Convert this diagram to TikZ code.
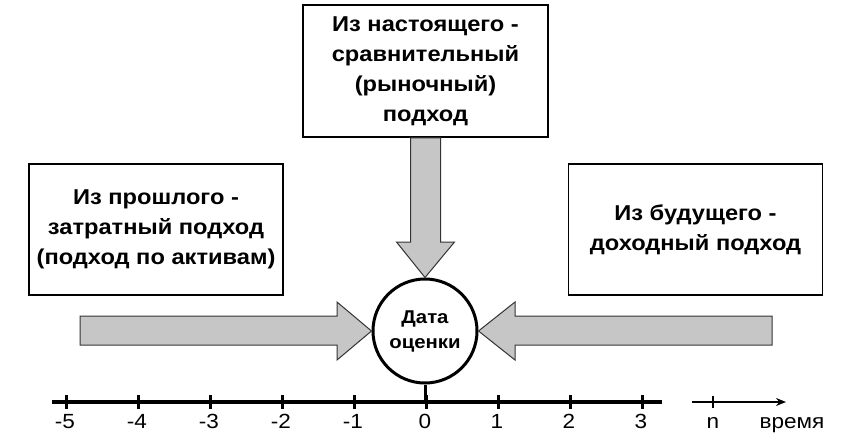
\documentclass[tikz,border=0pt]{standalone}
\usepackage{fontspec}
\setmainfont{Liberation Sans}[FakeStretch=1.1]
\usetikzlibrary{positioning,calc,arrows.meta}

\begin{document}
\begin{tikzpicture}[x=1pt,y=-1pt,
  box/.style={draw, line width=1.5pt, minimum width=254pt, minimum height=131pt, align=center, inner sep=0pt, font=\bfseries\fontsize{21.5}{30}\selectfont},
  blk/.style={draw=black!80, line width=1pt, fill=gray!45},
  tick/.style={line width=3pt},
  lbl/.style={anchor=base, inner sep=0pt, font=\fontsize{20.5}{20}\selectfont}]
\useasboundingbox (0,0) rectangle (861,445);
\node[box](past) at (156,229.5){Из прошлого -\\затратный подход\\(подход по активам)};
\node[box, minimum width=245pt, minimum height=132pt](now) at (425.5,71){Из настоящего -\\сравнительный\\(рыночный)\\подход};
\node[box](future) at (695.5,229.5){Из будущего -\\доходный подход};
\node[draw, circle, line width=3pt, minimum size=104pt, inner sep=0pt, align=center, font=\bfseries\fontsize{18.5}{25}\selectfont](date) at (425,331){Дата\\оценки};
% block arrows
\draw[blk] (80,316) -- (337,316) -- (337,302) -- (date.west) -- (337,360) -- (337,345) -- (80,345) -- cycle;
\draw[blk] (772,316) -- (515,316) -- (515,302) -- (date.east) -- (515,360) -- (515,345) -- (772,345) -- cycle;
\draw[blk] ($(now.south)+(-15,0)$) -- (410.5,242) -- (396.5,242) -- (date.north) -- (454.5,242) -- (440.5,242) -- ($(now.south)+(15,0)$) -- cycle;
% time axis
\draw[line width=3.5pt] (52,402) -- (662,402);
\foreach \t [count=\i from 0] in {-5,-4,-3,-2,-1,0,1,2,3}{
  \draw[tick] (66+72*\i,395) -- (66+72*\i,409);
  \node[lbl](t\i) at (65+72*\i,428){\t};
}
\draw[tick] (date.south) -- (date.south |- 0,402);
\coordinate (gap) at (692,402);
\coordinate (end) at (786,402);
\draw[line width=1.5pt, -{Stealth[length=10pt,width=8pt]}] (gap) -- (end);
\draw[line width=1.5pt] (713,396) -- (713,408);
\node[lbl](tn) at (713,428){n};
\node[lbl](time) at (792,428){время};
\end{tikzpicture}
\end{document}
